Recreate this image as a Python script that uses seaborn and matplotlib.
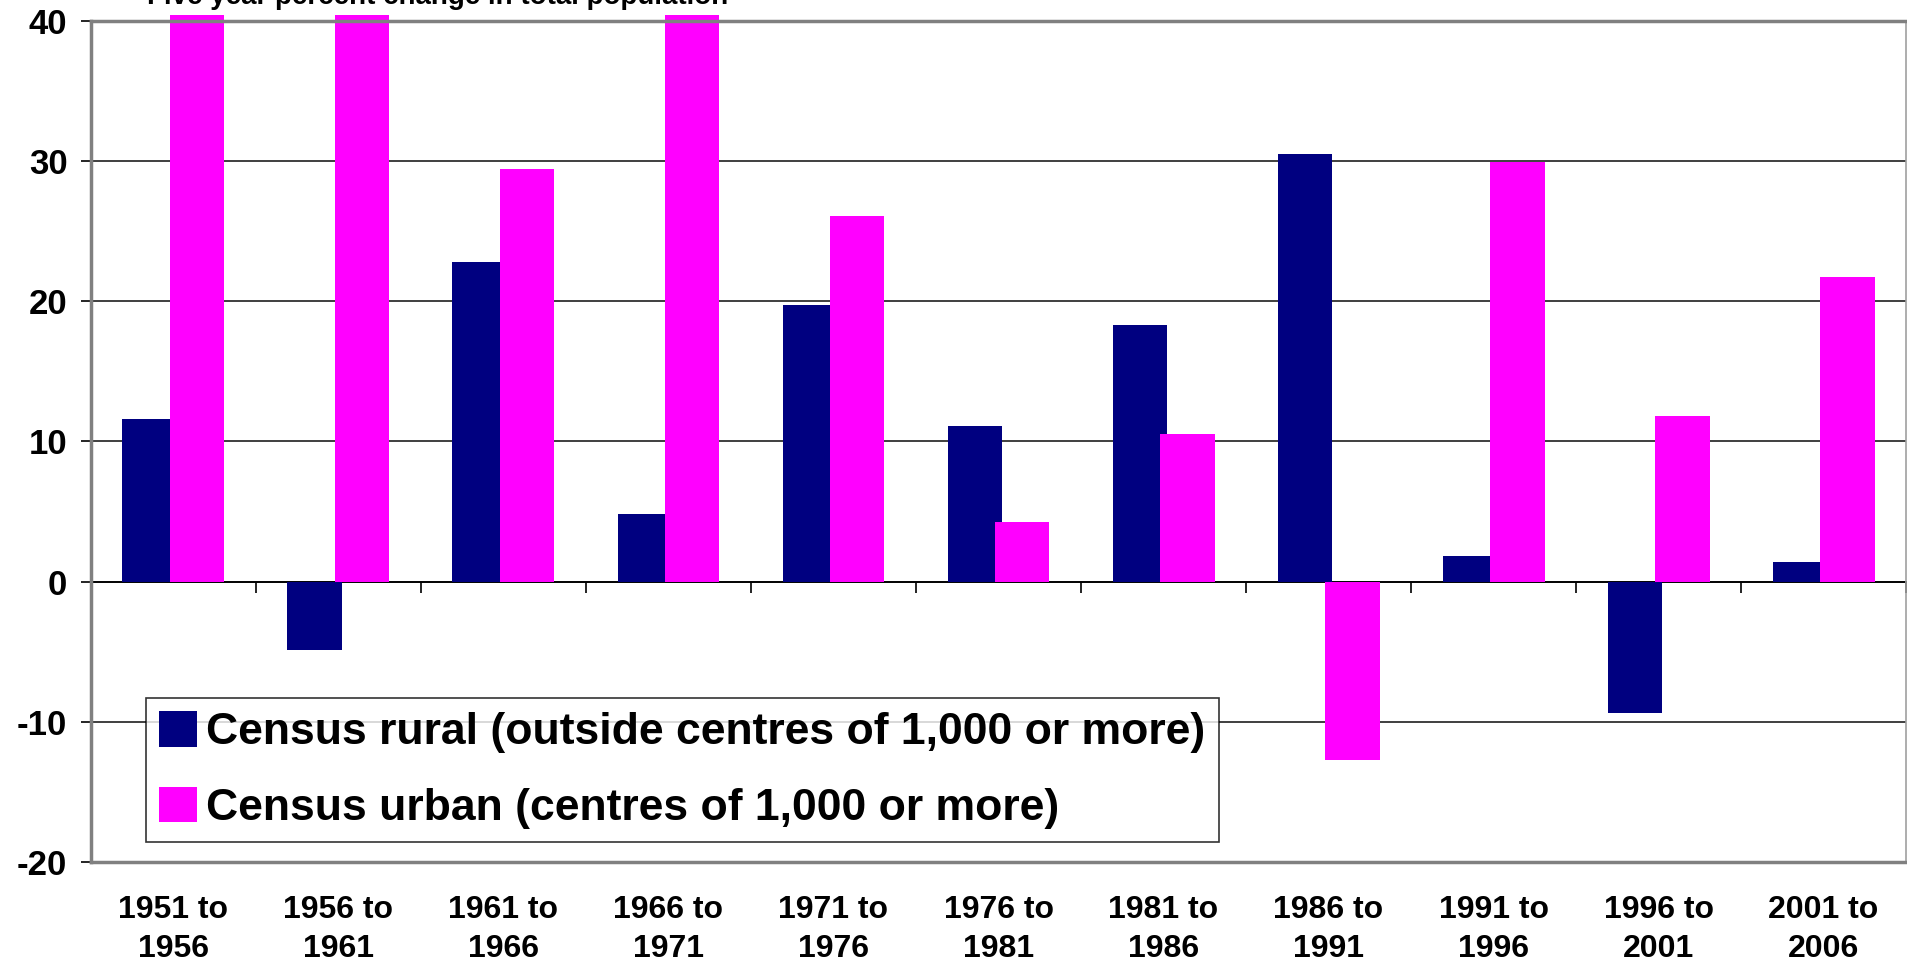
import numpy as np
import pandas as pd
import matplotlib
matplotlib.use("Agg")
import matplotlib.pyplot as plt
import seaborn as sns
from matplotlib.patches import Patch

# data
periods = ["1951 to\n1956", "1956 to\n1961", "1961 to\n1966", "1966 to\n1971",
           "1971 to\n1976", "1976 to\n1981", "1981 to\n1986", "1986 to\n1991",
           "1991 to\n1996", "1996 to\n2001", "2001 to\n2006"]
rural = [11.6, -4.85, 22.8, 4.85, 19.7, 11.1, 18.3, 30.5, 1.8, -9.4, 1.4]
urban = [40.4, 40.4, 29.4, 40.4, 26.1, 4.25, 10.5, -12.7, 29.9, 11.8, 21.7]
series_names = ["Census rural (outside centres of 1,000 or more)",
                "Census urban (centres of 1,000 or more)"]
colors = ["#000080", "#FF00FF"]
title = "Five year percent change in total population"

df = pd.DataFrame({
    "period": periods * 2,
    "change": rural + urban,
    "series": [series_names[0]] * len(periods) + [series_names[1]] * len(periods),
})

sns.set_style("white")
plt.rcParams["font.family"] = ["Liberation Sans", "DejaVu Sans"]
plt.rcParams["font.weight"] = "bold"
plt.rcParams["axes.unicode_minus"] = False
plt.rcParams["text.color"] = "black"
plt.rcParams["xtick.color"] = "black"
plt.rcParams["ytick.color"] = "black"

fig = plt.figure(figsize=(19.07, 9.61), dpi=100)
ax = fig.add_axes([0.0477, 0.103, 0.9518, 0.8755])

sns.barplot(data=df, x="period", y="change", hue="series", palette=colors,
            saturation=1, width=0.58, errorbar=None, linewidth=0, legend=False, ax=ax)

# bars overlap a little, like in the original
bw = 0.328
for p in ax.patches:
    c = p.get_x() + p.get_width() / 2
    p.set_width(bw)
    p.set_x(c - bw / 2)
    p.set_clip_on(False)

ax.set_xlim(-0.5, len(periods) - 0.5)
ax.set_ylim(-20, 40)
ax.set_yticks([-20, -10, 0, 10, 20, 30, 40])
ax.set_xlabel("")
ax.set_ylabel("")

for v in [-10, 10, 20, 30]:
    ax.axhline(v, color="#303030", lw=1.3, zorder=0)

for s in ["left", "bottom", "top"]:
    ax.spines[s].set_color("#808080")
    ax.spines[s].set_linewidth(2.5)
ax.spines["right"].set_color("#a0a0a0")
ax.spines["right"].set_linewidth(1.2)

ax.tick_params(axis="y", length=7, width=1.2, color="black", pad=10, labelsize=25,
               left=True)
ax.tick_params(axis="x", length=0, pad=24, labelsize=23)
for lab in ax.get_xticklabels() + ax.get_yticklabels():
    lab.set_fontweight("bold")
    lab.set_color("black")
for lab in ax.get_xticklabels():
    lab.set_linespacing(1.36)

# zero line with category separators
sec = ax.secondary_xaxis(0, transform=ax.transData)
sec.set_xticks(np.arange(-0.5, len(periods), 1.0))
sec.tick_params(length=8, width=1.2, color="black", labelbottom=False)
sec.spines["bottom"].set_color("black")
sec.spines["bottom"].set_linewidth(1.4)

handles = [Patch(facecolor=c, edgecolor="none") for c in colors]
leg = ax.legend(handles, series_names, loc="lower left",
                bbox_to_anchor=(0.0303, 0.0238), borderaxespad=0,
                prop={"size": 32, "weight": "bold"}, frameon=True, fancybox=False,
                handlelength=0.85, handleheight=0.85, handletextpad=0.2,
                labelspacing=0.75, borderpad=0.3)
leg.get_frame().set_edgecolor("black")
leg.get_frame().set_linewidth(1.2)
for t in leg.get_texts():
    t.set_color("black")

fig.text(0.2297, 0.9962, title, ha="center", va="baseline", fontsize=20,
         fontweight="bold", color="black")

fig.savefig("out.png", dpi=100)
